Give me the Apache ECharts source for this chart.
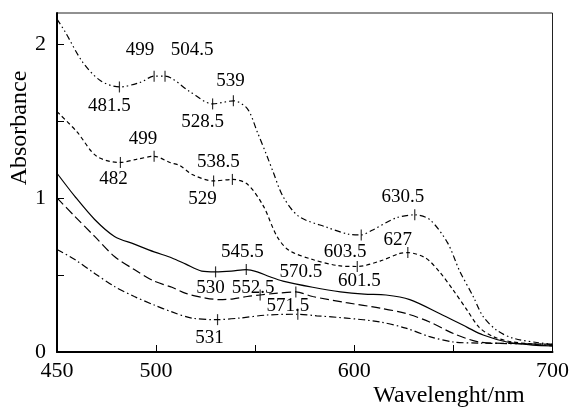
<!DOCTYPE html>
<html>
<head>
<meta charset="utf-8">
<script src="https://cdn.jsdelivr.net/npm/echarts@6/dist/echarts.min.js"></script>
<style>
  html, body { margin: 0; padding: 0; background: #fff; }
  #main { width: 572px; height: 408px; }
</style>
</head>
<body>
<div id="main"></div>
<script>
// spectra, [wavelength nm, absorbance]
const curveA = [[450,2.16],[454,2.08],[463,1.88],[472,1.76],[481.5,1.72],[492,1.75],[499,1.79],[504.5,1.79],[517,1.69],[528.5,1.61],[539,1.63],[546,1.58],[551,1.43],[556,1.27],[559,1.17],[564,1.01],[572,0.88],[586,0.81],[597,0.765],[603.5,0.76],[609,0.79],[621,0.87],[630.5,0.89],[638,0.86],[647,0.71],[653,0.53],[660,0.36],[665,0.23],[672,0.14],[680,0.09],[693,0.06],[700,0.05]]
const curveB = [[450,1.56],[460,1.43],[470,1.27],[482,1.23],[490,1.25],[499,1.27],[507,1.23],[512,1.21],[518.5,1.15],[529,1.11],[538.5,1.12],[546,1.09],[554,0.95],[561,0.75],[567,0.66],[579,0.6],[592,0.56],[601.5,0.555],[613,0.59],[623,0.64],[627,0.645],[636,0.61],[643,0.52],[650,0.4],[657,0.27],[663,0.16],[670,0.1],[680,0.065],[700,0.04]]
const curveC = [[450,1.16],[459,1.01],[469,0.86],[479,0.75],[489,0.7],[499,0.65],[508,0.61],[515,0.57],[523,0.525],[530,0.52],[538,0.525],[545.5,0.535],[551,0.52],[557,0.49],[564,0.46],[579,0.42],[593,0.39],[605,0.375],[616,0.37],[628,0.34],[643,0.25],[657,0.16],[665,0.11],[677,0.065],[690,0.045],[700,0.04]]
const curveD = [[450,1.0],[459,0.88],[469,0.75],[479,0.62],[489,0.535],[499,0.46],[508,0.42],[515,0.38],[525,0.35],[532,0.34],[539,0.345],[546,0.36],[552.5,0.37],[560,0.38],[570.5,0.39],[579,0.36],[596,0.32],[613,0.285],[626,0.25],[638,0.195],[650,0.12],[663,0.065],[680,0.055],[700,0.05]]
const curveE = [[450,0.665],[459,0.6],[469,0.51],[479,0.425],[489,0.36],[499,0.305],[508,0.26],[518,0.22],[531,0.21],[542,0.22],[556,0.24],[571.5,0.245],[581,0.235],[596,0.22],[613,0.195],[626,0.155],[638,0.1],[650,0.065],[663,0.058],[700,0.05]]

// marked band positions
const marksA = [[481.5,1.72],[499,1.79],[504.5,1.79],[528.5,1.61],[539,1.63],[603.5,0.76],[630.5,0.89]]
const marksB = [[482,1.23],[499,1.27],[529,1.11],[538.5,1.12],[601.5,0.555],[627,0.645]]
const marksC = [[530,0.52],[545.5,0.535]]
const marksD = [[552.5,0.37],[570.5,0.39]]
const marksE = [[531,0.21],[571.5,0.245]]

const xTicks = [450, 500, 600, 700]   // labelled x ticks
const yTicks = [0, 1, 2]

// label offsets (px) from each mark
const offA = [[-10,19],[-14,-26],[27,-26],[-10,18],[-3,-20],[-16,17],[-12,-18]]
const offB = [[-7,17],[-11,-17],[-11,18],[-14,-17],[2,15],[-10,-13]]
const offC = [[-5,16],[-4,-18]]
const offD = [[-7,-7],[5,-20]]
const offE = [[-8,18],[-10,-8]]

const font = 'Liberation Serif'
const ink = '#000'

function lineSeries(data, type) {
  return {
    type: 'line',
    data: data,
    smooth: 0.3,
    symbol: 'none',
    lineStyle: { color: ink, width: 1.2, type: type },
    z: 2
  }
}

function markSeries(marks, offs) {
  return {
    type: 'scatter',
    symbol: 'rect',
    symbolSize: [1.2, 11],
    itemStyle: { color: ink },
    z: 3,
    data: marks.map((m, i) => ({
      value: m,
      label: {
        show: true,
        position: 'inside',
        offset: offs[i],
        formatter: String(m[0]),
        color: '#000',
        textBorderWidth: 0,
        opacity: 1,
        fontFamily: font,
        fontSize: 19
      }
    }))
  }
}

const myChart = echarts.init(document.getElementById('main'))
myChart.setOption({
  animation: false,
  backgroundColor: '#fff',
  grid: { left: 57, right: 18, top: 13, bottom: 56, show: true, borderColor: '#222', borderWidth: 1 },
  xAxis: {
    type: 'value',
    min: 450,
    max: 700,
    interval: 50,
    axisLine: { lineStyle: { color: '#000', width: 2 } },
    axisTick: { inside: true, length: 7, lineStyle: { color: '#000' } },
    splitLine: { show: false },
    axisLabel: {
      color: '#000', fontFamily: font, fontSize: 22, margin: 8,
      formatter: v => xTicks.includes(v) ? String(v) : ''
    }
  },
  yAxis: {
    type: 'value',
    min: 0,
    max: 2.2,
    interval: 0.5,
    axisLine: { lineStyle: { color: '#000', width: 2 } },
    axisTick: { inside: true, length: 7, lineStyle: { color: '#000' } },
    splitLine: { show: false },
    axisLabel: {
      color: '#000', fontFamily: font, fontSize: 22, margin: 11,
      showMaxLabel: false,
      formatter: v => yTicks.includes(v) ? String(v) : ''
    }
  },
  graphic: [
    {
      type: 'text', x: 20, y: 128, rotation: Math.PI / 2,
      style: { text: 'Absorbance', fill: '#000', font: '24px "Liberation Serif"', align: 'center', verticalAlign: 'middle' }
    },
    {
      type: 'text', x: 449, y: 396,
      style: { text: 'Wavelenght/nm', fill: '#000', font: '24px "Liberation Serif"', align: 'center', verticalAlign: 'middle' }
    }
  ],
  series: [
    lineSeries(curveA, [6, 3, 1.5, 3, 1.5, 3]),
    lineSeries(curveB, [4, 3]),
    lineSeries(curveC, 'solid'),
    lineSeries(curveD, [9, 4]),
    lineSeries(curveE, [7, 3, 1.5, 3]),
    markSeries(marksA, offA),
    markSeries(marksB, offB),
    markSeries(marksC, offC),
    markSeries(marksD, offD),
    markSeries(marksE, offE)
  ]
})
</script>
</body>
</html>
